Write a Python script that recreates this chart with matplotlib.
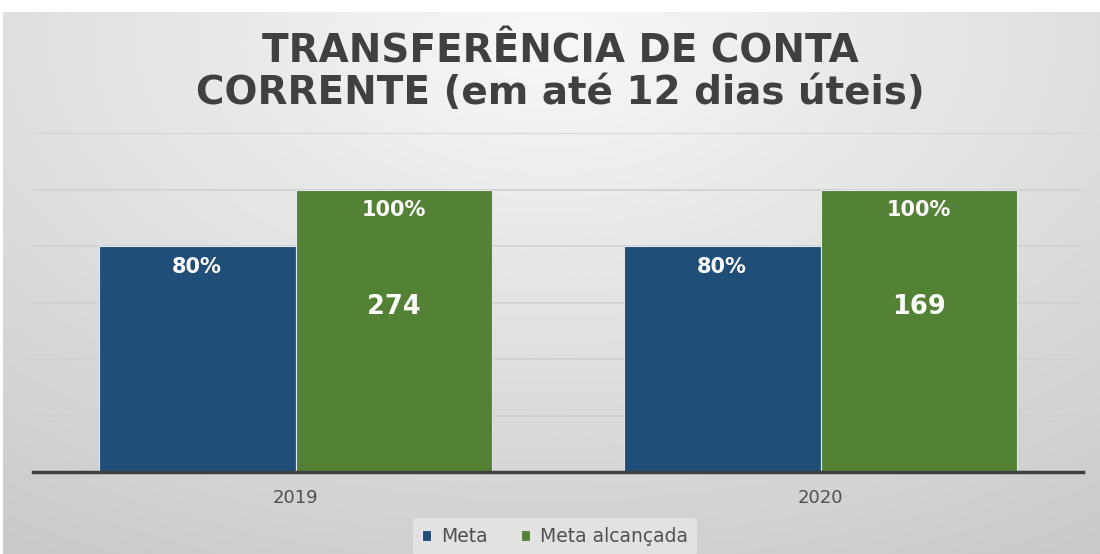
import numpy as np
import matplotlib
matplotlib.use("Agg")
from matplotlib import pyplot as plt

# data
anos = ['2019', '2020']
meta = [0.80, 0.80]
meta_alcancada = [1.00, 1.00]
quantidade = [274, 169]

cor_meta = '#1f4e79'
cor_alc = '#548235'

plt.rcParams['font.family'] = ['DejaVu Sans']

fig = plt.figure(figsize=(11, 5.54), dpi=100)

# background gradient (white at the top centre, grey towards edges)
bg = fig.add_axes([3/1100, 0, 1 - 3/1100, 542/554])
yy, xx = np.mgrid[0:1:300j, 0:1:600j]
r = np.sqrt(((xx - 0.5) * 1.1) ** 2 + ((yy - 0.05) * 0.9) ** 2)
img = 0.97 - 0.18 * np.clip(r, 0, 1)
bg.imshow(img, cmap='gray', vmin=0, vmax=1, aspect='auto', extent=[0, 1, 0, 1], origin='upper')
bg.set_axis_off()

ax = fig.add_axes([33/1100, (554-472)/554, 1050/1100, (472-133)/554])
ax.set_facecolor('none')

x = np.arange(len(anos))
w = 0.375
b1 = ax.bar(x - w/2, meta, w, color=cor_meta, edgecolor='#dfe6ee', linewidth=0.8, label='Meta', zorder=3)
b2 = ax.bar(x + w/2, meta_alcancada, w, color=cor_alc, edgecolor='#dfe6ee', linewidth=0.8, label='Meta alcançada', zorder=3)

ax.set_xlim(-0.5, 1.5)
ax.set_ylim(0, 1.2)
ax.set_yticks(np.arange(0, 1.21, 0.2))
ax.yaxis.grid(True, color='#d0d0d0', linewidth=1.2, zorder=0)
ax.tick_params(axis='y', left=False, labelleft=False)
ax.tick_params(axis='x', bottom=False, labelsize=13, labelcolor='#505050', pad=9)
ax.set_xticks(x)
ax.set_xticklabels(anos)
for s in ['top', 'right', 'left']:
    ax.spines[s].set_visible(False)
ax.spines['bottom'].set_color('#404040')
ax.spines['bottom'].set_linewidth(2.5)
ax.spines['bottom'].set_zorder(4)

# percentage labels
for bars, vals in [(b1, meta), (b2, meta_alcancada)]:
    for rect, v in zip(bars, vals):
        ax.annotate(f'{v:.0%}', (rect.get_x() + rect.get_width()/2, v),
                    xytext=(0, -15), textcoords='offset points',
                    ha='center', va='center', color='white',
                    fontsize=15, fontweight='bold', zorder=5)

# quantity labels inside green bars
for rect, q in zip(b2, quantidade):
    ax.text(rect.get_x() + rect.get_width()/2, 0.585, str(q),
            ha='center', va='center', color='white',
            fontsize=18.5, fontweight='bold', zorder=5)

fig.text(0.509, 0.87, 'TRANSFERÊNCIA DE CONTA\nCORRENTE (em até 12 dias úteis)',
         ha='center', va='center', fontsize=28, fontweight='bold',
         color='#404040', linespacing=1.1)

leg = ax.legend(loc='center', bbox_to_anchor=(0.497, -0.19), ncol=2, frameon=True,
                fontsize=13.5, handlelength=0.5, handleheight=0.5, handletextpad=0.5,
                columnspacing=1.8, borderpad=0.5)
leg.get_frame().set_facecolor('#e2e2e2')
leg.get_frame().set_edgecolor('none')
leg.get_frame().set_alpha(1)
for t in leg.get_texts():
    t.set_color('#505050')

fig.savefig('out.png', dpi=100)
